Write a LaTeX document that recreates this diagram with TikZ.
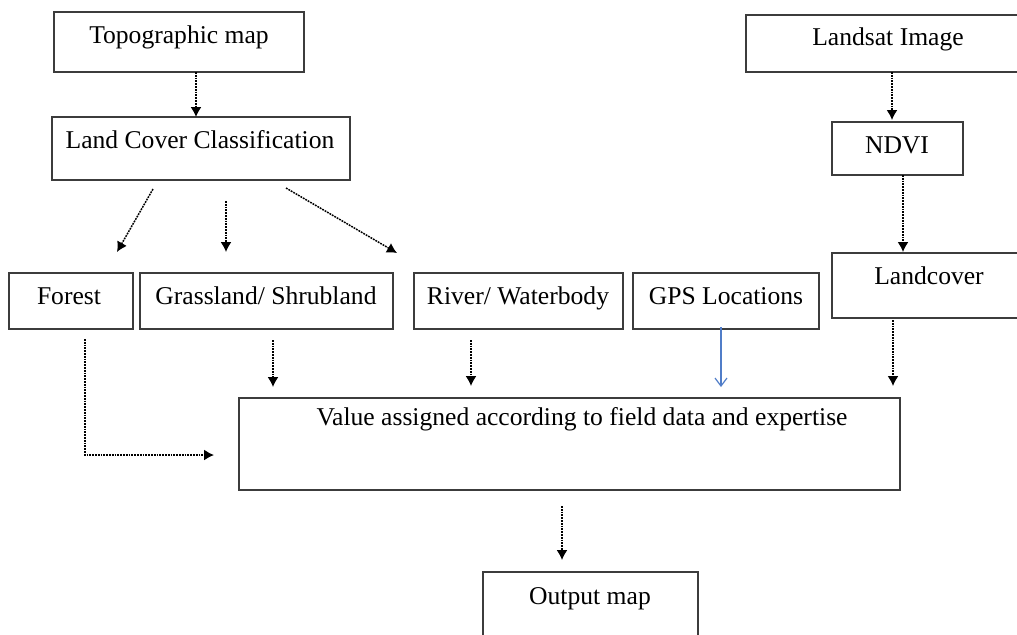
\documentclass[tikz,border=0pt]{standalone}
\usepackage{fontspec}
\setmainfont{Liberation Serif}
\usetikzlibrary{arrows.meta}
\definecolor{edge}{RGB}{60,60,60}
\definecolor{gpsblue}{RGB}{80,125,200}
\begin{document}
\begin{tikzpicture}[x=0.5pt,y=-0.5pt,
  box/.style={draw=edge, line width=0.6pt, rectangle, inner sep=0pt},
  txt/.style={font=\fontsize{12.8}{15}\selectfont, inner sep=0pt, anchor=base},
  arr/.style={draw=black, line width=0.75pt, dash pattern=on 0.9pt off 0.5pt, -{Latex[length=5pt,width=5.5pt]}},
  bluearr/.style={draw=gpsblue, line width=0.6pt, -{Straight Barb[length=4pt,width=6pt]}}]
\useasboundingbox (0,0) rectangle (1017,634);
\clip (0,0) rectangle (1017,634);

% boxes
\node[box, minimum width=125pt, minimum height=30pt] (topo) at (179,42) {};
\node[box, minimum width=149pt, minimum height=31.5pt] (lcc) at (201,148.5) {};
\node[box, minimum width=137pt, minimum height=28.5pt] (landsat) at (883,43.5) {};
\node[box, minimum width=65.5pt, minimum height=26.5pt] (ndvi) at (897.5,148.5) {};
\node[box, minimum width=94pt, minimum height=32.5pt] (landcover) at (926,285.5) {};
\node[box, minimum width=62pt, minimum height=28pt] (forest) at (71,301) {};
\node[box, minimum width=126.5pt, minimum height=28pt] (grass) at (266.5,301) {};
\node[box, minimum width=104.5pt, minimum height=28pt] (river) at (518.5,301) {};
\node[box, minimum width=93pt, minimum height=28pt] (gps) at (726,301) {};
\node[box, minimum width=330.5pt, minimum height=46pt] (value) at (569.5,444) {};
\node[box, minimum width=107.5pt, minimum height=34pt] (output) at (590.5,606) {};

% labels (placed on their baselines)
\node[txt] (topoT) at (179,43) {Topographic map};
\node[txt] (lccT) at (200,148) {Land Cover Classification};
\node[txt] (landsatT) at (888,45) {Landsat Image};
\node[txt] (ndviT) at (897,153) {NDVI};
\node[txt] (landcoverT) at (929,284) {Landcover};
\node[txt] (forestT) at (69,304) {Forest};
\node[txt] (grassT) at (266,304) {Grassland/ Shrubland};
\node[txt] (riverT) at (518,304) {River/ Waterbody};
\node[txt] (gpsT) at (726,304) {GPS Locations};
\node[txt] (valueT) at (582,425) {Value assigned according to field data and expertise};
\node[txt] (outputT) at (590,604) {Output map};

% connector ends
\coordinate (e1a) at (196,72);  \coordinate (e1b) at (196,117);
\coordinate (e2a) at (153,189); \coordinate (e2b) at (117,252);
\coordinate (e3a) at (226,201); \coordinate (e3b) at (226,252);
\coordinate (e4a) at (286,188); \coordinate (e4b) at (397,253);
\coordinate (e5a) at (892,72);  \coordinate (e5b) at (892,120);
\coordinate (e6a) at (903,175); \coordinate (e6b) at (903,252);
\coordinate (e7a) at (85,339);  \coordinate (e7c) at (85,455); \coordinate (e7b) at (214,455);
\coordinate (e8a) at (273,340); \coordinate (e8b) at (273,387);
\coordinate (e9a) at (471,340); \coordinate (e9b) at (471,386);
\coordinate (e10a) at (721,327); \coordinate (e10b) at (721,387);
\coordinate (e11a) at (893,320); \coordinate (e11b) at (893,386);
\coordinate (e12a) at (562,506); \coordinate (e12b) at (562,560);

% connectors
\draw[arr] (e1a) -- (e1b);
\draw[arr] (e2a) -- (e2b);
\draw[arr] (e3a) -- (e3b);
\draw[arr] (e4a) -- (e4b);
\draw[arr] (e5a) -- (e5b);
\draw[arr] (e6a) -- (e6b);
\draw[arr] (e7a) -- (e7c) -- (e7b);
\draw[arr] (e8a) -- (e8b);
\draw[arr] (e9a) -- (e9b);
\draw[bluearr] (e10a) -- (e10b);
\draw[arr] (e11a) -- (e11b);
\draw[arr] (e12a) -- (e12b);
\end{tikzpicture}
\end{document}
